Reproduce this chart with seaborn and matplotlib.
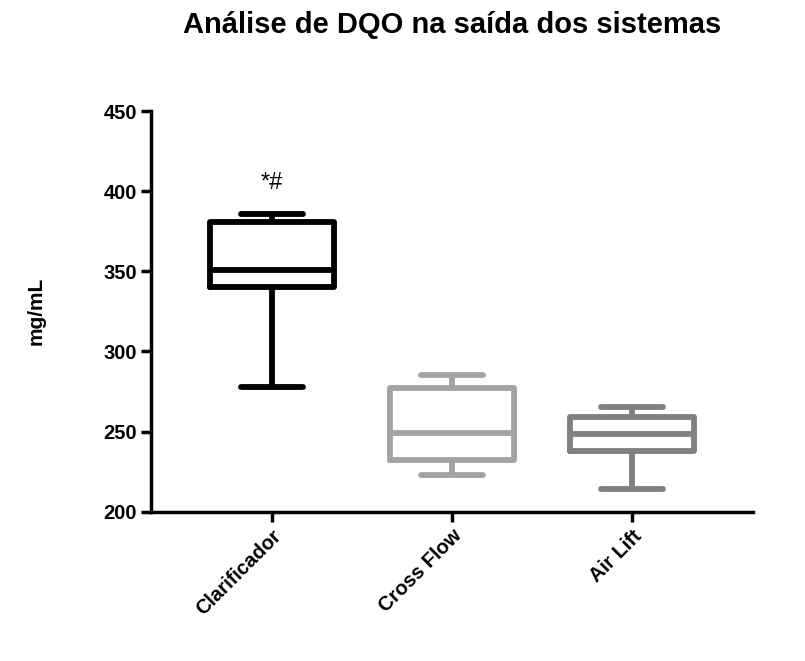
import pandas as pd
import seaborn as sns
import matplotlib.pyplot as plt

# valores (min, Q1, mediana, Q3, max)
sistemas = ['Clarificador', 'Cross Flow', 'Air Lift']
clarificador = [278, 340, 350.5, 380.5, 385.5]
cross_flow = [223, 232.5, 249, 277, 285]
air_lift = [214, 238, 248.5, 259, 265.5]
cores = ['#000000', '#a3a3a6', '#808080']

df = pd.DataFrame({
    'sistema': [sistemas[0]] * 5 + [sistemas[1]] * 5 + [sistemas[2]] * 5,
    'valor': clarificador + cross_flow + air_lift,
})

sns.set_style('ticks')
plt.rcParams['font.family'] = ['Liberation Sans', 'DejaVu Sans']
plt.rcParams['text.color'] = 'black'
plt.rcParams['axes.labelcolor'] = 'black'

fig = plt.figure(figsize=(8.05, 6.61), dpi=100)
ax = fig.add_axes([0.188, 0.226, 0.747, 0.606])

sns.boxplot(data=df, x='sistema', y='valor', hue='sistema', palette=cores,
            fill=False, whis=(0, 100), width=0.69, linewidth=4.2, legend=False, ax=ax)

ax.set_ylim(200, 450)
ax.set_yticks([200, 250, 300, 350, 400, 450])
ax.set_xlim(-0.67, 2.67)
ax.set_xlabel('')
ax.set_ylabel('mg/mL', fontsize=15, fontweight='bold')
ax.yaxis.set_label_coords(-0.175, 0.5)

for s in ['top', 'right']:
    ax.spines[s].set_visible(False)
for s in ['left', 'bottom']:
    ax.spines[s].set_linewidth(2.5)
    ax.spines[s].set_color('black')
ax.tick_params(width=2.5, length=7, labelsize=14.5, colors='black')
for lab in ax.get_yticklabels():
    lab.set_fontweight('bold')
for lab in ax.get_xticklabels():
    lab.set_fontweight('bold')
    lab.set_rotation(45)
    lab.set_ha('right')
    lab.set_rotation_mode('anchor')

ax.text(0.0, 405, '*#', fontsize=17, ha='center', va='center', color='black')

fig.text(0.562, 0.962, 'Análise de DQO na saída dos sistemas', fontsize=21,
         fontweight='bold', ha='center', va='center', color='black')

plt.savefig('out.png', dpi=100)
